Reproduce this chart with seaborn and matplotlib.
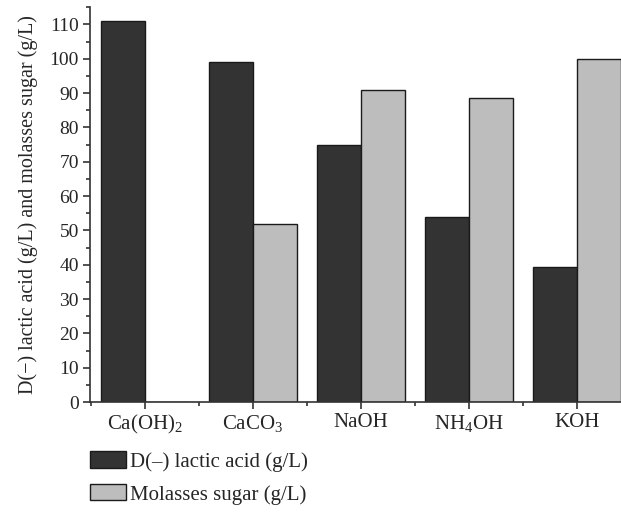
import matplotlib
matplotlib.use("Agg")
import matplotlib.pyplot as plt
import seaborn as sns
import pandas as pd
from matplotlib.ticker import MultipleLocator, FixedLocator

categories = ["Ca(OH)$_2$", "CaCO$_3$", "NaOH", "NH$_4$OH", "KOH"]
lactic = [111.0, 99.0, 75.0, 54.0, 39.5]
sugar = [0.0, 52.0, 91.0, 88.7, 100.0]
series_names = ["D(–) lactic acid (g/L)", "Molasses sugar (g/L)"]
ylabel = "D(−) lactic acid (g/L) and molasses sugar (g/L)"

sns.set_style("ticks")
plt.rcParams["font.family"] = ["Liberation Serif", "DejaVu Serif"]
plt.rcParams["mathtext.fontset"] = "custom"
plt.rcParams["mathtext.rm"] = "Liberation Serif"
plt.rcParams["mathtext.it"] = "Liberation Serif"

df = pd.DataFrame({
    "cat": categories * 2,
    "value": lactic + sugar,
    "series": [series_names[0]] * 5 + [series_names[1]] * 5,
})

fig = plt.figure(figsize=(6.21, 5.13), dpi=100)
ax = fig.add_axes([0.145, 0.216, 0.855, 0.770])
sns.barplot(data=df, x="cat", y="value", hue="series", order=categories,
            hue_order=series_names, palette=["#333333", "#bdbdbd"],
            width=0.815, edgecolor="#1a1a1a", linewidth=1.0, ax=ax, legend=True)

ax.set_ylim(0, 115)
ax.set_xlim(-0.51, 4.41)
ax.yaxis.set_major_locator(MultipleLocator(10))
ax.yaxis.set_minor_locator(MultipleLocator(5))
ax.xaxis.set_minor_locator(FixedLocator([-0.5, 0.5, 1.5, 2.5, 3.5]))
ax.tick_params(axis="y", which="major", labelsize=14, length=5, width=1.2, color="#333333", pad=3)
ax.tick_params(axis="x", which="major", labelsize=15, length=5, width=1.2, color="#333333", pad=3)
ax.tick_params(axis="both", which="minor", length=3, width=1.2, color="#333333")
ax.set_xlabel("")
ax.set_ylabel(ylabel, fontsize=14.5, labelpad=8)
for s in ["top", "right"]:
    ax.spines[s].set_visible(False)
for s in ["left", "bottom"]:
    ax.spines[s].set_linewidth(1.2)
    ax.spines[s].set_color("#333333")

handles, labels = ax.get_legend_handles_labels()
ax.get_legend().remove()
fig.legend(handles, labels, loc="upper left", bbox_to_anchor=(0.145, 0.12),
           frameon=False, fontsize=15, handlelength=1.73, handleheight=0.82,
           handletextpad=0.2, labelspacing=0.6, borderaxespad=0, borderpad=0)

fig.savefig("out.png", dpi=100)
